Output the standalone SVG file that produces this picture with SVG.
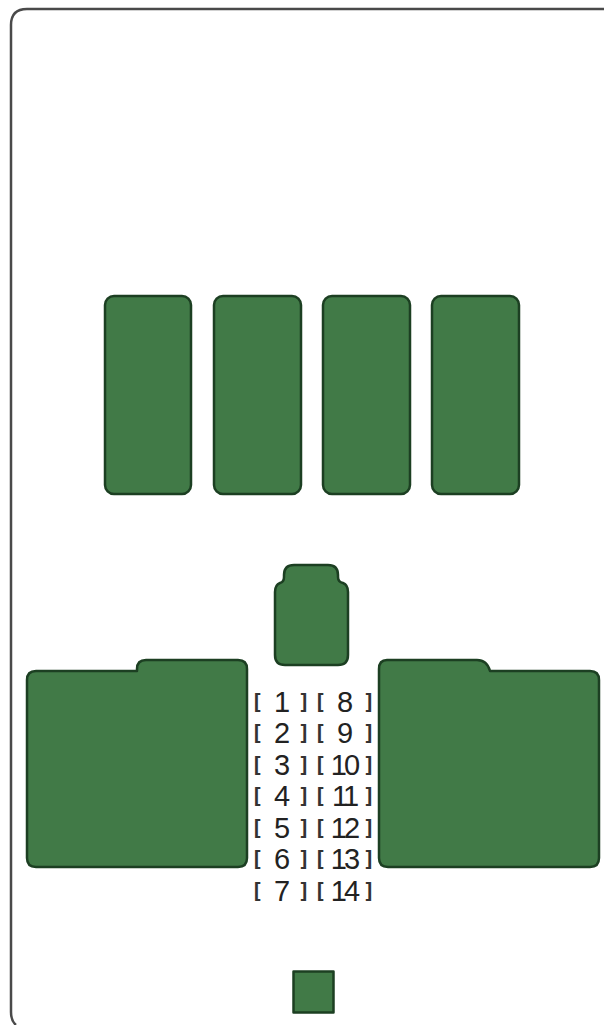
<svg xmlns="http://www.w3.org/2000/svg" width="604" height="1025" viewBox="0 0 604 1025">
<style>
.b{fill:#417a47;stroke:#1c3f22;stroke-width:2.500;stroke-linejoin:round}
.f{fill:none;stroke:#4a4a4a;stroke-width:2.500}
.t{font-family:"Liberation Sans",Arial,sans-serif;font-size:29px;fill:#222;text-anchor:middle}
.n{letter-spacing:-3px}
.k{font-family:"DejaVu Sans Mono",monospace;font-size:21px;font-weight:bold;fill:#333}
</style>
<rect width="604" height="1025" fill="#fff"/>
<g id="frame"><path class="f" d="M604 9H27Q11 9 11 25V1012Q11 1021 16 1025"/></g>
<g id="relay-a"><rect class="b" x="105" y="296" width="86" height="198" rx="9"/></g>
<g id="relay-b"><rect class="b" x="214" y="296" width="87" height="198" rx="9"/></g>
<g id="relay-c"><rect class="b" x="323" y="296" width="87" height="198" rx="9"/></g>
<g id="relay-d"><rect class="b" x="432" y="296" width="87" height="198" rx="9"/></g>
<g id="relay-center"><path class="b" d="M294 565H328Q338 565 338 575V577Q338 582 343 583Q348 585 348 592V655Q348 665 338 665H285Q275 665 275 655V592Q275 585 280 583Q284 582 284 577V575Q284 565 294 565Z"/></g>
<g id="block-left"><path class="b" d="M146 660H238Q247 660 247 669V858Q247 867 238 867H36Q27 867 27 858V680Q27 671 36 671H137V669Q137 660 146 660Z"/></g>
<g id="block-right"><path class="b" d="M387 660H477Q487 660 490 671H590Q599 671 599 680V858Q599 867 590 867H388Q379 867 379 858V669Q379 660 387 660Z"/></g>
<g id="square"><rect class="b" x="293.500" y="971.500" width="40" height="41"/></g>
<g id="labels">
<text class="t"><tspan class="k" x="257" y="709">[</tspan><tspan x="282" y="712">1</tspan><tspan class="k" x="304" y="709">]</tspan><tspan class="k" x="320" y="709">[</tspan><tspan x="345" y="712">8</tspan><tspan class="k" x="369" y="709">]</tspan></text>
<text class="t"><tspan class="k" x="257" y="740">[</tspan><tspan x="282" y="743">2</tspan><tspan class="k" x="304" y="740">]</tspan><tspan class="k" x="320" y="740">[</tspan><tspan x="345" y="743">9</tspan><tspan class="k" x="369" y="740">]</tspan></text>
<text class="t"><tspan class="k" x="257" y="772">[</tspan><tspan x="282" y="775">3</tspan><tspan class="k" x="304" y="772">]</tspan><tspan class="k" x="320" y="772">[</tspan><tspan class="n" x="344" y="775">10</tspan><tspan class="k" x="369" y="772">]</tspan></text>
<text class="t"><tspan class="k" x="257" y="803">[</tspan><tspan x="282" y="806">4</tspan><tspan class="k" x="304" y="803">]</tspan><tspan class="k" x="320" y="803">[</tspan><tspan class="n" x="344" y="806">11</tspan><tspan class="k" x="369" y="803">]</tspan></text>
<text class="t"><tspan class="k" x="257" y="835">[</tspan><tspan x="282" y="838">5</tspan><tspan class="k" x="304" y="835">]</tspan><tspan class="k" x="320" y="835">[</tspan><tspan class="n" x="344" y="838">12</tspan><tspan class="k" x="369" y="835">]</tspan></text>
<text class="t"><tspan class="k" x="257" y="866">[</tspan><tspan x="282" y="869">6</tspan><tspan class="k" x="304" y="866">]</tspan><tspan class="k" x="320" y="866">[</tspan><tspan class="n" x="344" y="869">13</tspan><tspan class="k" x="369" y="866">]</tspan></text>
<text class="t"><tspan class="k" x="257" y="898">[</tspan><tspan x="282" y="901">7</tspan><tspan class="k" x="304" y="898">]</tspan><tspan class="k" x="320" y="898">[</tspan><tspan class="n" x="344" y="901">14</tspan><tspan class="k" x="369" y="898">]</tspan></text>
</g>
</svg>
